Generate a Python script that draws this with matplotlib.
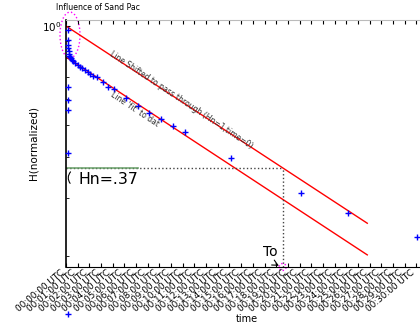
import numpy as np
import matplotlib
matplotlib.use("Agg")
import matplotlib.pyplot as plt
from matplotlib.patches import Ellipse
from matplotlib.ticker import FixedLocator, NullFormatter, LogLocator

# measured head (normalized) vs time in minutes
t_data = [0.20, 0.20, 0.20, 0.20, 0.22, 0.24, 0.26, 0.30, 0.40, 0.50, 0.60,
          0.80, 1.00, 1.20, 1.40, 1.63, 1.85, 2.05, 2.35, 2.63, 3.14, 3.62,
          4.11, 5.14, 6.14, 7.13, 8.16, 9.14, 10.17, 14.13, 20.12, 24.12, 30.08,
          0.20, 0.20, 0.20, 0.20, 0.20]
h_data = [0.972, 0.907, 0.876, 0.858, 0.840, 0.822, 0.812, 0.805, 0.798, 0.790, 0.784,
          0.772, 0.761, 0.752, 0.745, 0.735, 0.724, 0.715, 0.707, 0.700, 0.675, 0.654,
          0.642, 0.606, 0.573, 0.543, 0.521, 0.497, 0.476, 0.398, 0.311, 0.270, 0.229,
          0.652, 0.596, 0.556, 0.411, 0.134]

# fitted line and the same line shifted through (Hn=1, time=0)
t_line = [0.0, 25.8]
h_fit = [0.805, 0.202]
h_shift = [1.0, 0.252]

Hn = 0.37
To = 18.55

tick_minutes = list(range(31))
tick_labels = ["00:%02d:00 UTC" % m for m in tick_minutes]

fig = plt.figure(figsize=(4.2, 3.24), dpi=100)
ax = fig.add_axes([66/420, 57/324, 362/420, 247/324])

ax.plot(t_data, h_data, '+', color='blue', ms=4.5, mew=1, clip_on=False, zorder=3)
ax.plot(t_line, h_fit, '-', color='red', lw=1)
ax.plot(t_line, h_shift, '-', color='red', lw=1)

ax.plot([0, To], [Hn, Hn], ':', color='#444444', lw=1)
ax.plot([To, To], [0.1856, Hn], ':', color='#444444', lw=1)
ax.plot([0, 6.16], [Hn, Hn], '-', color='#5f9a5f', lw=1.3, alpha=0.8)

ax.set_yscale('log')
ax.set_ylim(0.1856, 1.043)
ax.set_xlim(0, 31)

ax.yaxis.set_major_locator(LogLocator(base=10))
ax.yaxis.set_minor_locator(LogLocator(base=10, subs=np.arange(2, 10)))
ax.yaxis.set_minor_formatter(NullFormatter())

ax.xaxis.set_major_locator(FixedLocator(tick_minutes))
ax.set_xticklabels(tick_labels, rotation=40, ha='right', fontsize=6.4)

ax.tick_params(axis='x', direction='in', length=3, top=True, width=0.8, pad=1)
ax.tick_params(axis='y', which='both', direction='in', length=3, labelsize=7.5)
ax.tick_params(axis='y', which='minor', length=2)
ax.spines['top'].set_color('#bbbbbb')
ax.spines['right'].set_visible(False)
ax.spines['left'].set_linewidth(1.2)

ax.set_xlabel('time', fontsize=7, labelpad=0)
ax.set_ylabel('H(normalized)', fontsize=7.5, labelpad=2)
fig.text(98/420, 1 - 8/324, 'Influence of Sand Pac', fontsize=5.6, ha='center', va='center')

ax.text(9.9, 0.595, 'Line Shifted to pass through (Hn=1,time=0)', fontsize=5.5,
        rotation=-33.5, ha='center', va='center', color='#333333')
ax.text(5.9, 0.560, "Line 'fit' to dat", fontsize=5.5,
        rotation=-33.5, ha='center', va='center', color='#333333')

ax.text(3.6, 0.342, 'Hn=.37', fontsize=11.3, ha='center', va='center')
ax.annotate('', xy=(0.55, 0.366), xytext=(0.5, 0.328),
            arrowprops=dict(arrowstyle='-', connectionstyle='arc3,rad=-0.5', lw=0.8))
ax.annotate('To', xy=(To - 0.1, 0.1856), xytext=(17.47, 0.206), fontsize=10,
            ha='center', va='center',
            arrowprops=dict(arrowstyle='->', connectionstyle='arc3,rad=0.3', lw=0.8))

ax.add_patch(Ellipse((4/362, 0.939), 20/362, 46/247, transform=ax.transAxes,
                     fill=False, ec='magenta', ls=':', lw=1, clip_on=False))
ax.add_patch(Ellipse((To/31, 0.0), 7/362, 7/247, transform=ax.transAxes,
                     fill=False, ec='magenta', ls=':', lw=1, clip_on=False))

fig.savefig('out.png', dpi=100)
